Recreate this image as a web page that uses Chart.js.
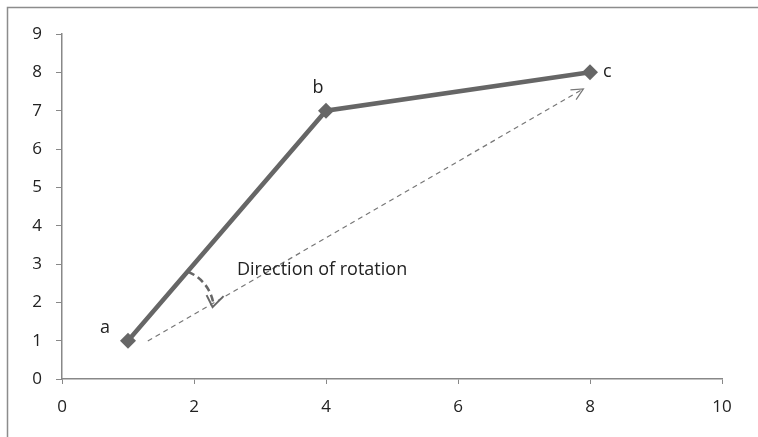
<!DOCTYPE html>
<html>
<head>
<meta charset="utf-8">
<script src="https://cdn.jsdelivr.net/npm/chart.js@4"></script>
<style>
  html, body { margin: 0; padding: 0; background: #fff; }
  #wrap { width: 758px; height: 437px; position: relative; }
</style>
</head>
<body>
<div id="wrap"><canvas id="myChart"></canvas></div>
<script>
// main path a -> b -> c
const pointNames = ["a", "b", "c"];
const xValues = [1, 4, 8];
const yValues = [1, 7, 8];

// dashed direction arrow (start, end)
const arrowX = [1.3, 7.9];
const arrowY = [0.99, 7.57];

// curved rotation arrow: centre (data units)
const turnCentre = [1.68, 1.8];

const xTicks = [0, 2, 4, 6, 8, 10];
const yTicks = [0, 1, 2, 3, 4, 5, 6, 7, 8, 9];
const noteText = "Direction of rotation";

const FONT = "'Open Sans', 'Liberation Sans', sans-serif";

const extras = {
    id: "extras",
    afterDraw(chart) {
        const c = chart.ctx;
        const xs = chart.scales.x, ys = chart.scales.y;

        // outer frame (only left and top edges visible)
        c.save();
        c.strokeStyle = "#8c8c8c";
        c.lineWidth = 1.5;
        c.beginPath();
        c.moveTo(7.5, 437);
        c.lineTo(7.5, 7.5);
        c.lineTo(758, 7.5);
        c.stroke();
        c.restore();

        // arrowhead for the dashed line
        const x0 = xs.getPixelForValue(arrowX[0]), y0 = ys.getPixelForValue(arrowY[0]);
        const x1 = xs.getPixelForValue(arrowX[1]), y1 = ys.getPixelForValue(arrowY[1]);
        const ang = Math.atan2(y1 - y0, x1 - x0);
        c.save();
        c.strokeStyle = "#777";
        c.lineWidth = 1.2;
        c.beginPath();
        c.moveTo(x1 - 13 * Math.cos(ang - 0.45), y1 - 13 * Math.sin(ang - 0.45));
        c.lineTo(x1, y1);
        c.lineTo(x1 - 13 * Math.cos(ang + 0.45), y1 - 13 * Math.sin(ang + 0.45));
        c.stroke();
        c.restore();

        // curved rotation arrow
        const cx = xs.getPixelForValue(turnCentre[0]), cy = ys.getPixelForValue(turnCentre[1]);
        const r = 41;
        const a1 = -1.19, a2 = -0.12;
        c.save();
        c.strokeStyle = "#666";
        c.lineWidth = 2.5;
        c.setLineDash([7, 4]);
        c.beginPath();
        c.arc(cx, cy, r, a1, a2, false);
        c.stroke();
        c.setLineDash([]);
        const ex = cx + r * Math.cos(a2), ey = cy + r * Math.sin(a2);
        c.lineWidth = 2;
        c.beginPath();
        c.moveTo(ex - 7, ey - 10);
        c.lineTo(ex - 1, ey + 2);
        c.lineTo(ex + 10, ey - 9);
        c.stroke();
        c.restore();

        // text labels
        c.save();
        c.fillStyle = "#222";
        c.font = "18px " + FONT;
        c.textBaseline = "middle";
        const offs = [[-23, -13, "center"], [-8, -23, "center"], [13, 0, "left"]];
        pointNames.forEach((n, i) => {
            const px = xs.getPixelForValue(xValues[i]), py = ys.getPixelForValue(yValues[i]);
            c.textAlign = offs[i][2];
            c.fillText(n, px + offs[i][0], py + offs[i][1]);
        });
        c.font = "18px " + FONT;
        c.textAlign = "left";
        c.fillText(noteText, 237, 270);
        c.restore();
    }
};

const ctx = document.getElementById('myChart').getContext('2d');
const myChart = new Chart(ctx, {
    type: 'scatter',
    data: {
        datasets: [{
            data: xValues.map((x, i) => ({ x: x, y: yValues[i] })),
            showLine: true,
            borderColor: "#666",
            backgroundColor: "#666",
            borderWidth: 4.5,
            pointStyle: "rectRot",
            pointRadius: 8,
            pointBorderWidth: 0
        }, {
            data: arrowX.map((x, i) => ({ x: x, y: arrowY[i] })),
            showLine: true,
            borderColor: "#777",
            borderWidth: 1.2,
            borderDash: [5, 4],
            pointRadius: 0
        }]
    },
    plugins: [extras],
    options: {
        responsive: true,
        maintainAspectRatio: false,
        animation: false,
        layout: { padding: { left: 0, right: 36, top: 34, bottom: 0 } },
        plugins: { legend: { display: false }, tooltip: { enabled: false } },
        scales: {
            x: {
                type: 'linear',
                min: 0, max: 10,
                afterBuildTicks: s => { s.ticks = xTicks.map(v => ({ value: v })); },
                afterFit: s => { s.height = 58; },
                border: { color: "#888", width: 1.5 },
                grid: { drawOnChartArea: false, drawTicks: true, tickLength: 5, color: "#888" },
                ticks: { color: "#222", font: { family: FONT, size: 17 }, padding: 13 }
            },
            y: {
                type: 'linear',
                min: 0, max: 9,
                afterBuildTicks: s => { s.ticks = yTicks.map(v => ({ value: v })); },
                afterFit: s => { s.width = 62; },
                border: { color: "#888", width: 1.5 },
                grid: { drawOnChartArea: false, drawTicks: true, tickLength: 6, color: "#888" },
                ticks: { color: "#222", font: { family: FONT, size: 17 }, padding: 14 }
            }
        }
    }
});
</script>
</body>
</html>
